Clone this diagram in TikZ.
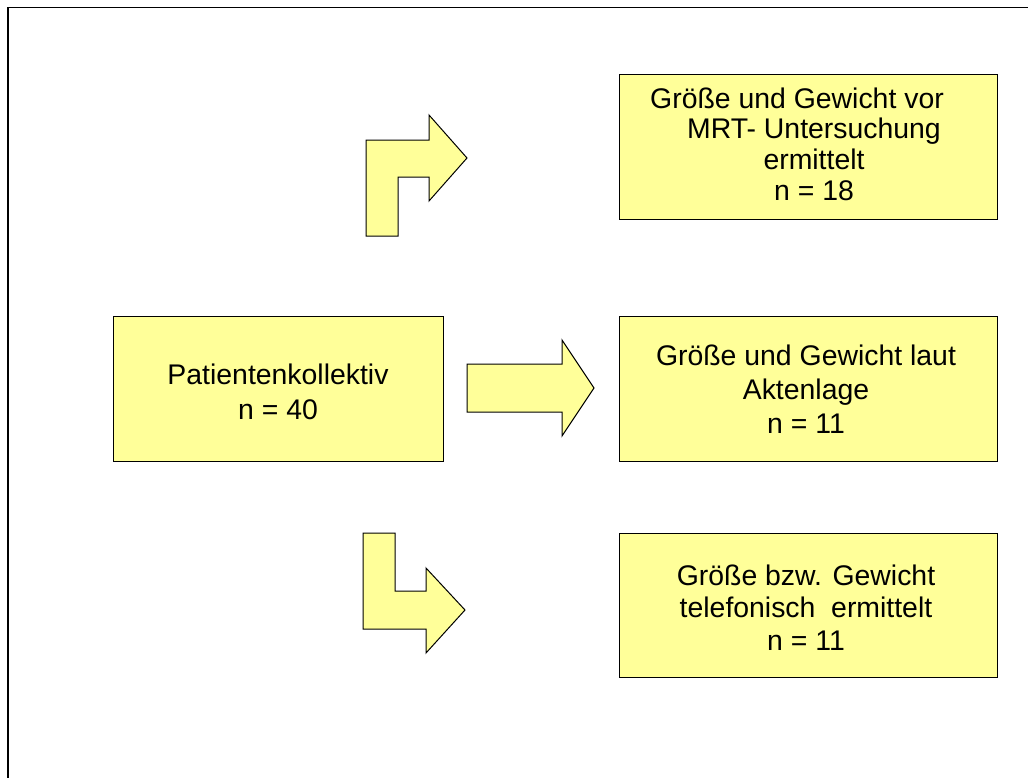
\documentclass[tikz,border=0pt]{standalone}
\usepackage{fontspec}
\setmainfont{Liberation Sans}
\definecolor{boxfill}{HTML}{FFFF99}
\begin{document}
\begin{tikzpicture}[x=1bp,y=-1bp,
  box/.style={draw=black,line width=1bp,fill=boxfill,inner sep=0pt,
    minimum width=378bp,minimum height=144bp},
  blockarrow/.style={draw=black,line width=1bp,fill=boxfill,line join=miter},
  txt/.style={align=center,inner sep=0pt,text=black},
  frameline/.style={draw=black,line width=1.3bp}]
\useasboundingbox (0,0) rectangle (1028,778);
% frame (only top and left edges visible)
\draw[frameline] (1030,7.5) -- (8,7.5) -- (8,780);
% boxes
\node[box,minimum width=329bp,minimum height=145bp] (b0) at (278.5,388.5) {};
\node[box] (b1) at (808,147) {};
\node[box,minimum height=145bp] (b2) at (808,388.5) {};
\node[box] (b3) at (808,605) {};
% texts
\node[txt,font=\fontsize{28.4bp}{35bp}\selectfont] (t0) at (278,391.5) {Patientenkollektiv\\n = 40};
\node[txt,font=\fontsize{28.4bp}{30.7bp}\selectfont] (t1) at (814,144) {Größe und Gewicht vor\hspace*{34bp}\\MRT- Untersuchung\\ermittelt\\n = 18};
\node[txt,font=\fontsize{28.4bp}{34bp}\selectfont] (t2) at (806,389) {Größe und Gewicht laut\\Aktenlage\\n = 11};
\node[txt,font=\fontsize{28.4bp}{32.5bp}\selectfont] (t3) at (806,607.5) {Größe bzw. Gewicht\\telefonisch\ \ ermittelt\\n = 11};
% block arrows
\path[blockarrow] (366,236) -- (366,140) -- (429,140) -- (429,115) -- (467,158)
  -- (429,201) -- (429,177) -- (398,177) -- (398,236) -- cycle;
\path[blockarrow] (467,364) -- (562,364) -- (562,340) -- (594,388) -- (562,436)
  -- (562,412) -- (467,412) -- cycle;
\path[blockarrow] (363,533) -- (395,533) -- (395,591) -- (426,591) -- (426,568)
  -- (465,610) -- (426,653) -- (426,629) -- (363,629) -- cycle;
\end{tikzpicture}
\end{document}
